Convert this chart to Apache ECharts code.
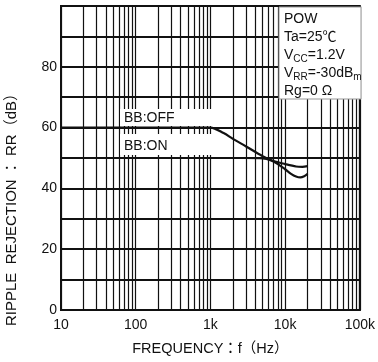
<!DOCTYPE html>
<html>
<head>
<meta charset="utf-8">
<script src="https://cdn.jsdelivr.net/npm/echarts@6/dist/echarts.min.js"></script>
<style>
html,body{margin:0;padding:0;background:#fff;}
#c{width:378px;height:362px;}
</style>
</head>
<body>
<div id="c"></div>
<script>
// ---- data ----
var xTickValues = [10, 100, 1000, 10000, 100000];
var xTickLabels = ['10', '100', '1k', '10k', '100k'];
var yTickLabels = ['0', '20', '40', '60', '80'];
var decades = [10, 100, 1000, 10000];
var minorMultipliers = [2, 3, 4, 5, 6, 7, 8, 9];

var offFreq = [10, 100, 1000, 1500, 2000, 3000, 5000, 7000, 10000, 14000, 17000, 20000];
var offDb   = [60, 60, 60, 58.2, 56.3, 53.8, 50.6, 49.0, 48.0, 47.2, 47.1, 47.3];
var onFreq  = [10, 100, 1000, 3000, 5000, 6500, 8000, 10000, 12000, 14000, 16000, 18000, 20000];
var onDb    = [50, 50, 50, 50, 49.9, 49.2, 48.0, 46.3, 44.8, 43.9, 43.6, 44.0, 44.8];

var FONT = '"Liberation Sans", Arial, "Noto Sans CJK JP", sans-serif';

function pairs(xs, ys) { return xs.map(function (x, i) { return [x, ys[i]]; }); }

var minorLines = [];
decades.forEach(function (d) {
  minorMultipliers.forEach(function (m) { minorLines.push({ xAxis: d * m }); });
});

var chart = echarts.init(document.getElementById('c'), null, { renderer: 'canvas' });
chart.setOption({
  animation: false,
  backgroundColor: '#fff',
  grid: { left: 61, right: 16, top: 6, bottom: 52, show: true, borderColor: '#111', borderWidth: 2, backgroundColor: 'transparent' },
  xAxis: {
    type: 'log', logBase: 10, min: 10, max: 100000,
    name: 'FREQUENCY：f（Hz）', nameLocation: 'middle', nameGap: 32,
    nameTextStyle: { fontFamily: FONT, fontSize: 14.5, color: '#111' },
    axisLine: { show: true, lineStyle: { color: '#111', width: 2 } },
    axisTick: { show: false },
    axisLabel: {
      fontFamily: FONT, fontSize: 14, color: '#111', margin: 8,
      formatter: function (v) { var i = xTickValues.indexOf(Math.round(v)); return i >= 0 ? xTickLabels[i] : ''; }
    },
    splitLine: { show: true, lineStyle: { color: '#111', width: 1.2 } }
  },
  yAxis: {
    type: 'value', min: 0, max: 100, interval: 10,
    axisLine: { show: true, lineStyle: { color: '#111', width: 2 } },
    axisTick: { show: false },
    axisLabel: {
      fontFamily: FONT, fontSize: 14, color: '#111', margin: 4,
      formatter: function (v) { var s = String(v); return yTickLabels.indexOf(s) >= 0 ? s : ''; }
    },
    splitLine: { show: true, lineStyle: { color: '#111', width: 1.8 } }
  },
  series: [
    {
      type: 'line', data: [], silent: true,
      markLine: {
        silent: true, symbol: 'none', label: { show: false },
        lineStyle: { color: '#111', width: 1.2, type: 'solid' },
        data: minorLines, animation: false
      }
    },
    {
      name: 'BB:OFF', type: 'line', data: pairs(offFreq, offDb), smooth: 0.3,
      showSymbol: false, lineStyle: { color: '#111', width: 2.2 }, z: 5
    },
    {
      name: 'BB:ON', type: 'line', data: pairs(onFreq, onDb), smooth: 0.3,
      showSymbol: false, lineStyle: { color: '#111', width: 2.2 }, z: 5
    }
  ],
  graphic: [
    { type: 'rect', z: 50, shape: { x: 279, y: 7, width: 82, height: 92 }, style: { fill: '#fff', stroke: '#999', lineWidth: 1 } },
    { type: 'text', z: 51, left: 284, top: 10, style: {
        text: 'POW\nTa=25℃\nV{s|CC}=1.2V\nV{s|RR}=-30dB{s|m}\nRg=0 Ω',
        font: '14px ' + FONT, fill: '#111', lineHeight: 18,
        rich: { s: { fontSize: 10, fontFamily: FONT, fill: '#111', verticalAlign: 'bottom', lineHeight: 18, padding: [4, 0, 0, 0] } }
    } },
    { type: 'rect', z: 50, shape: { x: 120, y: 109, width: 92, height: 17 }, style: { fill: '#fff' } },
    { type: 'text', z: 51, left: 124, top: 111, style: { text: 'BB:OFF', font: '14px ' + FONT, fill: '#111' } },
    { type: 'rect', z: 50, shape: { x: 120, y: 134, width: 92, height: 21 }, style: { fill: '#fff' } },
    { type: 'text', z: 51, left: 124, top: 139, style: { text: 'BB:ON', font: '14px ' + FONT, fill: '#111' } },
    { type: 'text', z: 51, x: 12, y: 206, rotation: Math.PI / 2, style: {
        text: 'RIPPLE  REJECTION ： RR（dB）', font: '15px ' + FONT, fill: '#111', align: 'center', verticalAlign: 'middle'
    } }
  ]
});
</script>
</body>
</html>
